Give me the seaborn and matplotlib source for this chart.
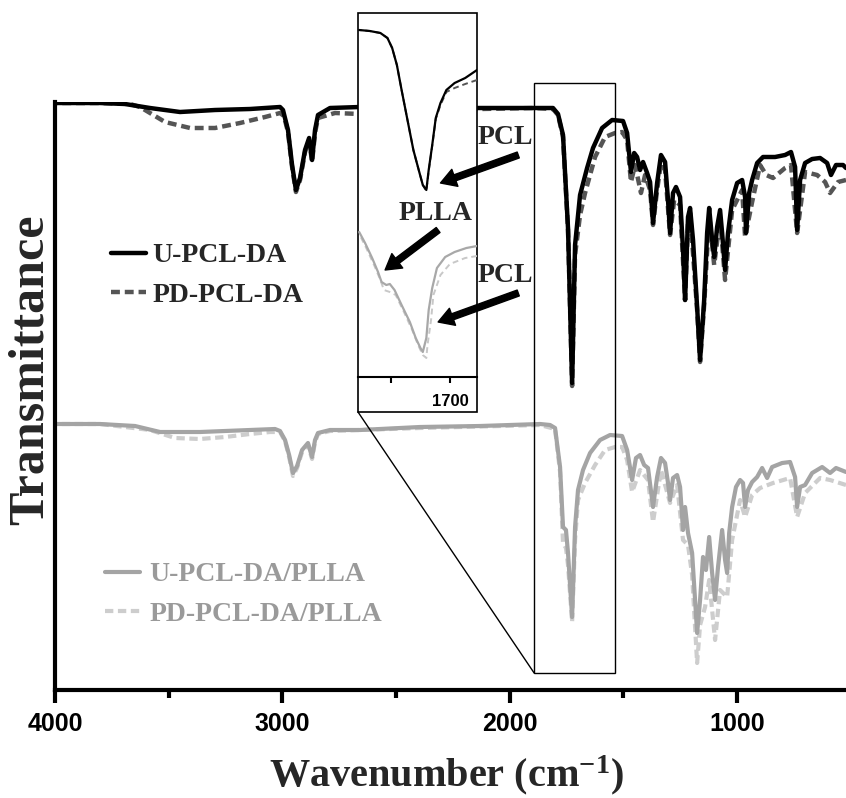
import numpy as np
import pandas as pd
import matplotlib.pyplot as plt
import seaborn as sns
from matplotlib.patches import Rectangle, ConnectionPatch

# ---------------- main spectra (wavenumber, transmittance a.u.) ----------------
u_pcl_wn = [4000, 3802, 3692, 3582, 3450, 3296, 3142, 3010, 2997, 2975, 2957, 2940, 2922, 2900,
            2882, 2869, 2856, 2843, 2790, 2658, 2394, 2130, 1892, 1809, 1787, 1765, 1743, 1725,
            1712, 1690, 1659, 1633, 1593, 1549, 1501, 1483, 1466, 1452, 1439, 1426, 1413, 1395,
            1382, 1369, 1351, 1334, 1316, 1303, 1294, 1281, 1268, 1250, 1237, 1228, 1215, 1206,
            1193, 1175, 1162, 1144, 1131, 1122, 1109, 1100, 1087, 1074, 1065, 1052, 1039, 1021,
            999, 977, 964, 960, 946, 933, 911, 885, 832, 788, 762, 744, 735, 722, 700, 669, 634,
            603, 586, 564, 533, 520]
u_pcl_t = [587, 587, 586, 582, 578, 580, 581, 583, 580, 560, 525, 500, 512, 540,
           552, 530, 560, 575, 582, 583, 582, 582, 582, 582, 576, 555, 462, 307,
           445, 495, 522, 542, 562, 570, 569, 557, 518, 537, 533, 520, 528, 517,
           508, 467, 507, 535, 528, 490, 457, 497, 503, 493, 440, 390, 473, 482,
           450, 383, 330, 390, 457, 482, 450, 433, 463, 480, 457, 420, 457, 490,
           507, 510, 493, 457, 497, 510, 527, 533, 533, 535, 538, 523, 460, 510, 527, 531, 532,
           527, 515, 525, 525, 522]

pd_pcl_wn = [4000, 3802, 3670, 3626, 3516, 3406, 3296, 3186, 3076, 3010, 2993, 2975, 2957, 2940,
             2922, 2900, 2882, 2869, 2856, 2843, 2768, 2658, 2394, 2130, 1892, 1809, 1787, 1765,
             1743, 1725, 1712, 1690, 1668, 1624, 1580, 1536, 1505, 1483, 1466, 1448, 1422, 1404,
             1382, 1369, 1351, 1334, 1316, 1294, 1276, 1250, 1228, 1215, 1206, 1175, 1162, 1144,
             1122, 1100, 1074, 1052, 1021, 977, 964, 933, 898, 871, 841, 788, 762, 735, 700, 647,
             612, 590, 555, 520]
pd_pcl_t = [587, 587, 586, 583, 568, 562, 562, 567, 573, 577, 574, 558, 523, 498,
            510, 538, 550, 528, 557, 572, 577, 576, 580, 581, 582, 581, 575, 553,
            460, 304, 435, 475, 497, 533, 553, 557, 558, 550, 508, 525, 497, 515,
            500, 465, 500, 527, 520, 455, 490, 485, 390, 468, 477, 380, 328, 385,
            475, 425, 472, 410, 480, 500, 453, 488, 525, 515, 512, 522, 525, 457, 518, 515,
            508, 497, 508, 510]

u_plla_wn = [4000, 3802, 3648, 3538, 3362, 3142, 3032, 3010, 2988, 2970, 2953, 2935, 2913, 2887,
             2869, 2856, 2843, 2790, 2658, 2394, 2130, 1866, 1822, 1800, 1778, 1765, 1752, 1743,
             1725, 1712, 1699, 1677, 1646, 1602, 1558, 1505, 1483, 1461, 1444, 1426, 1408, 1391,
             1369, 1351, 1334, 1316, 1303, 1294, 1281, 1263, 1250, 1237, 1228, 1215, 1197, 1184,
             1175, 1162, 1149, 1136, 1122, 1109, 1096, 1083, 1065, 1052, 1043, 1034, 1021, 1004,
             986, 973, 964, 951, 933, 911, 889, 867, 845, 801, 766, 744, 735, 722, 700, 669, 625,
             590, 564, 520]
u_plla_t = [266, 266, 264, 258, 258, 260, 261, 259, 250, 235, 217, 224, 240, 247,
            233, 250, 257, 260, 260, 263, 264, 266, 265, 262, 223, 163, 160, 137,
            73, 163, 200, 220, 237, 250, 255, 254, 240, 210, 232, 235, 225, 222,
            183, 213, 232, 227, 207, 190, 212, 215, 203, 160, 183, 157, 137, 90,
            57, 90, 133, 120, 153, 117, 90, 123, 160, 130, 117, 157, 183, 203,
            210, 207, 183, 200, 208, 213, 222, 212, 223, 227, 228, 213, 183, 203, 205, 217, 223,
            217, 222, 218]

pd_plla_wn = [4000, 3802, 3582, 3472, 3362, 3252, 3142, 3054, 3010, 2988, 2970, 2953, 2935, 2913,
              2887, 2869, 2856, 2843, 2790, 2394, 1866, 1800, 1778, 1765, 1752, 1743, 1725, 1712,
              1699, 1668, 1624, 1580, 1536, 1505, 1483, 1461, 1426, 1391, 1369, 1334, 1294, 1263,
              1237, 1215, 1197, 1175, 1162, 1140, 1122, 1096, 1074, 1043, 1021, 986, 964, 933, 898,
              841, 766, 735, 700, 634, 590, 520]
pd_plla_t = [266, 266, 260, 252, 251, 253, 256, 258, 258, 249, 233, 214, 222, 238,
             245, 231, 248, 256, 259, 262, 265, 261, 218, 147, 142, 125, 68, 150,
             190, 207, 225, 240, 243, 243, 230, 198, 220, 210, 168, 220, 187, 205,
             150, 145, 115, 27, 65, 83, 110, 50, 100, 93, 150, 190, 173, 195, 202,
             207, 212, 173, 197, 212, 210, 205]

# ---------------- inset (carbonyl region, own scale) ----------------
in_top_wn = [1777, 1768, 1759, 1753, 1749, 1745, 1741, 1736, 1731, 1726, 1723, 1720, 1718,
             1715, 1712, 1708, 1703, 1696, 1687, 1677]
in_top_u = [347, 346, 344, 339, 329, 312, 287, 257, 227, 205, 192, 187, 207,
            232, 259, 274, 287, 294, 299, 307]
in_top_pd = [347, 346, 344, 339, 329, 312, 287, 257, 227, 205, 192, 186, 206,
             231, 258, 272, 285, 289, 293, 297]

in_bot_u_wn = [1777, 1772, 1766, 1761, 1758, 1754, 1751, 1747, 1741, 1734, 1729, 1725, 1723,
               1720, 1718, 1715, 1711, 1704, 1696, 1686, 1677]
in_bot_u = [145, 134, 119, 105, 95, 92, 93, 87, 72, 55, 39, 29, 25,
            39, 67, 89, 109, 120, 125, 129, 131]
in_bot_pd_wn = [1777, 1771, 1764, 1759, 1756, 1751, 1746, 1739, 1732, 1727, 1723, 1720, 1719,
                1716, 1714, 1708, 1700, 1687, 1677]
in_bot_pd = [143, 129, 111, 97, 87, 85, 82, 65, 47, 32, 22, 19, 32,
             57, 82, 102, 113, 119, 121]

main_ticks = [4000, 3000, 2000, 1000]
minor_ticks = [3500, 2500, 1500]
inset_ticks = [1750, 1700]
inset_ticklabels = ["", "1700"]

# ---------------- style ----------------
sns.set_theme(style="ticks")
plt.rcParams['font.family'] = ['Liberation Sans', 'DejaVu Sans']
plt.rcParams['font.weight'] = 'bold'
plt.rcParams['mathtext.fontset'] = 'custom'
plt.rcParams['mathtext.rm'] = 'Liberation Serif:bold'
plt.rcParams['mathtext.it'] = 'Liberation Serif:bold'
plt.rcParams['mathtext.bf'] = 'Liberation Serif:bold'
serif = dict(family='Liberation Serif', weight='bold')

W, H = 846, 798
fig = plt.figure(figsize=(W / 100, H / 100), dpi=100)
ax = fig.add_axes([55 / W, 1 - 690 / H, 791 / W, 588 / H])

dash = (0, (2.0, 1.1))
sns.lineplot(x=pd_pcl_wn, y=pd_pcl_t, ax=ax, color='#555555', lw=3.2, linestyle=dash, estimator=None)
h_pd = ax.lines[-1]
sns.lineplot(x=u_pcl_wn, y=u_pcl_t, ax=ax, color='black', lw=3.2, estimator=None)
h_u = ax.lines[-1]
sns.lineplot(x=pd_plla_wn, y=pd_plla_t, ax=ax, color='#cdcdcd', lw=3, linestyle=dash, estimator=None)
h_pd2 = ax.lines[-1]
sns.lineplot(x=u_plla_wn, y=u_plla_t, ax=ax, color='#a4a4a4', lw=3, estimator=None)
h_u2 = ax.lines[-1]

ax.set_xlim(4000, 520)
ax.set_ylim(0, 588)
ax.set_xticks(main_ticks)
ax.set_xticks(minor_ticks, minor=True)
ax.set_yticks([])
ax.tick_params(axis='x', which='major', direction='out', length=9, width=3, pad=7,
               labelsize=18, color='black', labelcolor='black')
ax.tick_params(axis='x', which='minor', direction='out', length=5.5, width=3, color='black')
for s in ['top', 'right']:
    ax.spines[s].set_visible(False)
for s in ['left', 'bottom']:
    ax.spines[s].set_linewidth(3)
    ax.spines[s].set_color('black')

ax.set_xlabel('Wavenumber (cm$^{-1}$)', size=29, **serif)
ax.xaxis.set_label_coords(0.495, -0.108)
ax.set_ylabel('')
fig.text(31 / W, 1 - 370 / H, 'Transmittance', rotation=90, ha='center', va='center',
         size=36, **serif)

# zoom rectangle on the main plot
ax.add_patch(Rectangle((1536, 17), 356, 590, fill=False, ec='black', lw=1.0,
                       clip_on=False, zorder=4))

# legends
leg1 = ax.legend(handles=[h_u, h_pd], labels=['U-PCL-DA', 'PD-PCL-DA'], loc='upper left',
                 bbox_to_anchor=(111 / W, 1 - 243 / H), bbox_transform=fig.transFigure,
                 frameon=False, prop=dict(size=20, **serif), handlelength=1.25,
                 handletextpad=0.25, labelspacing=0.5, borderpad=0, borderaxespad=0)
ax.add_artist(leg1)
ax.legend(handles=[h_u2, h_pd2], labels=['U-PCL-DA/PLLA', 'PD-PCL-DA/PLLA'], loc='upper left',
          bbox_to_anchor=(105 / W, 1 - 562 / H), bbox_transform=fig.transFigure,
          frameon=False, prop=dict(size=20, **serif), handlelength=1.25,
          handletextpad=0.35, labelspacing=0.5, borderpad=0, borderaxespad=0,
          labelcolor='#9a9a9a')

# ---------------- inset ----------------
box = Rectangle((358 / W, 1 - 412 / H), 119 / W, 399 / H, transform=fig.transFigure,
                facecolor='white', edgecolor='black', lw=1.2, zorder=2)
fig.add_artist(box)
fig.add_artist(ConnectionPatch(xyA=(1536, 607), coordsA='data', axesA=ax,
                               xyB=(477 / W, 1 - 13 / H), coordsB='figure fraction',
                               color='black', lw=1.0, zorder=2))
fig.add_artist(ConnectionPatch(xyA=(1892, 17), coordsA='data', axesA=ax,
                               xyB=(358 / W, 1 - 412 / H), coordsB='figure fraction',
                               color='black', lw=1.0, zorder=2))

ax_in = fig.add_axes([358 / W, 1 - 377 / H, 119 / W, 364 / H], zorder=3)
ax_in.patch.set_alpha(0)
sns.lineplot(x=in_top_wn, y=in_top_pd, ax=ax_in, color='#555555', lw=1.4,
             linestyle=(0, (3, 2)), estimator=None)
sns.lineplot(x=in_top_wn, y=in_top_u, ax=ax_in, color='black', lw=1.6, estimator=None)
sns.lineplot(x=in_bot_pd_wn, y=in_bot_pd, ax=ax_in, color='#c8c8c8', lw=1.4,
             linestyle=(0, (3, 2)), estimator=None)
sns.lineplot(x=in_bot_u_wn, y=in_bot_u, ax=ax_in, color='#a8a8a8', lw=1.6, estimator=None)
ax_in.set_xlim(1778, 1677)
ax_in.set_ylim(0, 364)
ax_in.set_xticks(inset_ticks)
ax_in.set_xticklabels(inset_ticklabels)
ax_in.set_yticks([])
ax_in.set_xlabel('')
ax_in.set_ylabel('')
for s in ['top', 'left', 'right']:
    ax_in.spines[s].set_visible(False)
ax_in.spines['bottom'].set_linewidth(1.5)
ax_in.spines['bottom'].set_color('black')
ax_in.tick_params(axis='x', direction='out', length=4, width=1.5, labelsize=12, pad=8,
                  color='black', labelcolor='black')

arrow = dict(facecolor='black', edgecolor='black', width=4.5, headwidth=13,
             headlength=11, shrink=0)
ax_in.annotate('', xy=(1708, 194), xytext=(1642, 222), arrowprops=arrow, annotation_clip=False)
ax_in.annotate('', xy=(1710, 55), xytext=(1642, 84), arrowprops=arrow, annotation_clip=False)
ax_in.annotate('', xy=(1755, 107), xytext=(1710, 147), arrowprops=arrow, annotation_clip=False)
ax_in.text(1653, 240, 'PCL', ha='center', va='center', size=20, clip_on=False, **serif)
ax_in.text(1653, 102, 'PCL', ha='center', va='center', size=20, clip_on=False, **serif)
ax_in.text(1712, 164, 'PLLA', ha='center', va='center', size=20, clip_on=False, **serif)

fig.savefig('out.png', dpi=100)
